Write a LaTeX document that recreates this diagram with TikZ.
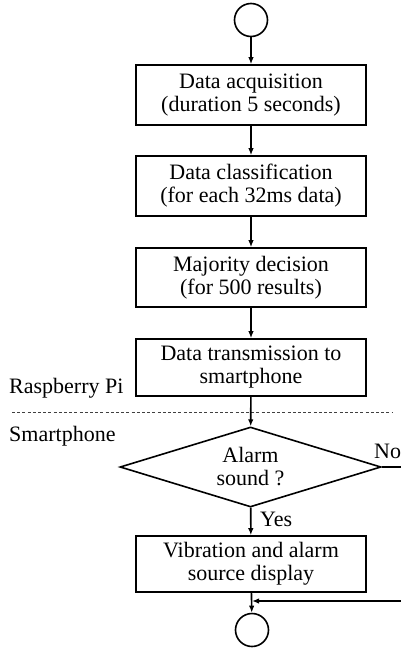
\documentclass[tikz,border=0pt]{standalone}
\usepackage{fontspec}
\setmainfont{Liberation Serif}
\usetikzlibrary{shapes.geometric,arrows.meta}
\begin{document}
\begin{tikzpicture}[x=1pt,y=-1pt,
  every node/.style={font=\fontsize{22}{23}\selectfont},
  box/.style={draw,line width=1.6pt,rectangle,minimum width=230pt,inner sep=0pt,align=center},
  term/.style={draw,line width=1.6pt,circle,minimum size=33pt,inner sep=0pt},
  dec/.style={draw,line width=1.6pt,diamond,aspect=3.26,minimum width=261pt,minimum height=80pt,inner sep=0pt,align=center},
  flow/.style={line width=1.6pt,-{Latex[length=7pt,width=5.5pt]}},
  plain/.style={line width=1.6pt},
  lbl/.style={inner sep=0pt,anchor=base west}]
\useasboundingbox (0,0) rectangle (401,651);
\node[term] (start) at (251,20) {};
\node[box,minimum height=60pt] (b1) at (251,95) {Data acquisition\\(duration 5 seconds)};
\node[box,minimum height=60pt] (b2) at (251,186) {Data classification\\(for each 32ms data)};
\node[box,minimum height=59pt] (b3) at (251,277.5) {Majority decision\\(for 500 results)};
\node[box,minimum height=57pt] (b4) at (251,367.5) {Data transmission to\\smartphone};
\node[dec] (d) at (250.5,467) {Alarm\\sound ?};
\node[box,minimum height=56pt] (b5) at (251,564) {Vibration and alarm\\source display};
\node[term] (stop) at (252,630) {};
\node[lbl] (rp) at (9,393) {Raspberry Pi};
\node[lbl] (sp) at (9,441) {Smartphone};
\node[lbl] (no) at (374,458) {No};
\node[lbl] (yes) at (260,526) {Yes};
\coordinate (dl) at (12,412);
\coordinate (dr) at (393,412);
\draw[line width=0.8pt,dash pattern=on 3pt off 2.2pt,black!75] (dl) -- (dr);
\draw[flow] (start) -- (b1);
\draw[flow] (b1) -- (b2);
\draw[flow] (b2) -- (b3);
\draw[flow] (b3) -- (b4);
\draw[flow] (b4) -- (d);
\draw[flow] (d) -- (b5);
\draw[flow] (b5) -- (stop);
\coordinate (noend) at (401,467);
\draw[plain] (d.east) -- (noend);
\coordinate (back) at (401,601);
\draw[flow] (back) -- (back -| stop.north);
\end{tikzpicture}
\end{document}
